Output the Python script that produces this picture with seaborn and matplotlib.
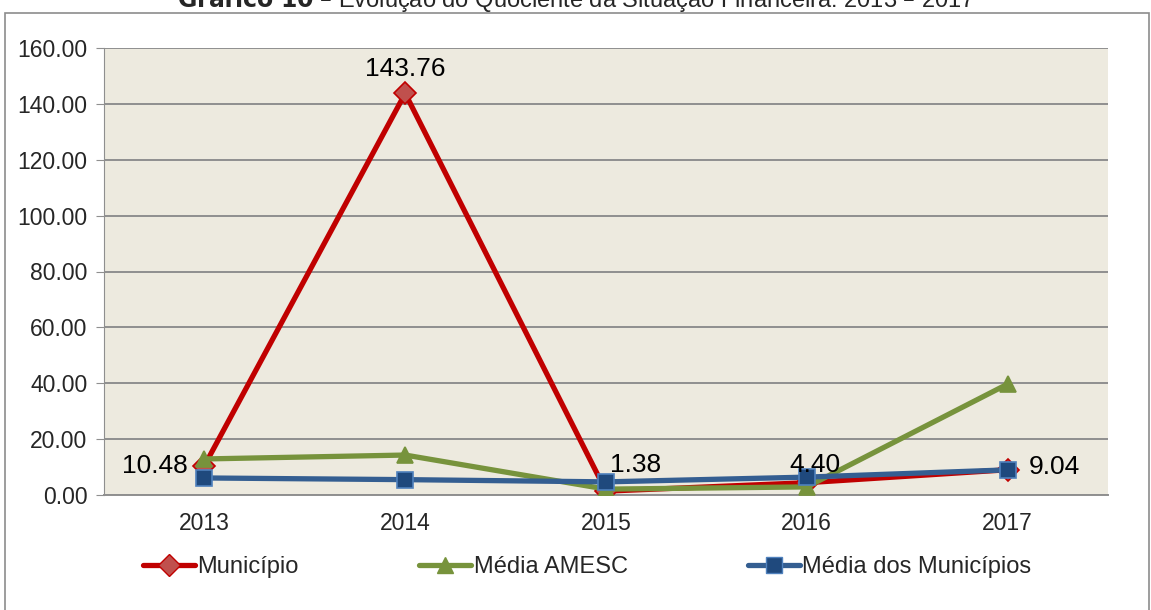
import matplotlib
matplotlib.use("Agg")
import matplotlib.pyplot as plt
import seaborn as sns
import pandas as pd
from matplotlib.patches import Rectangle
from matplotlib.lines import Line2D

# dados
anos = ["2013", "2014", "2015", "2016", "2017"]
municipio = [10.48, 143.76, 1.38, 4.40, 9.04]
media_amesc = [12.9, 14.3, 2.1, 2.9, 39.7]
media_municipios = [6.1, 5.5, 4.7, 6.4, 9.0]
y_ticks = [0, 20, 40, 60, 80, 100, 120, 140, 160]

sns.set_style("white")
plt.rcParams['font.family'] = ['Liberation Sans', 'DejaVu Sans']

fig = plt.figure(figsize=(11.51, 6.10), dpi=100)
ax = fig.add_axes([104 / 1151, 1 - 495 / 610, (1108 - 104) / 1151, (495 - 48) / 610])
ax.set_facecolor("#EDEADF")

# moldura externa
fig.patches.append(Rectangle((5 / 1151, -0.1), 1144 / 1151, 1.1 - 13 / 610,
                             transform=fig.transFigure, fill=False,
                             edgecolor="#8C8C8C", linewidth=1.2, zorder=0))

series = [
    ("Município", municipio, "#C00000", "D", "#C0504D", "#C00000", 11),
    ("Média AMESC", media_amesc, "#77933C", "^", "#77933C", "#77933C", 12),
    ("Média dos Municípios", media_municipios, "#345E91", "s", "#1F497D", "#4F81BD", 11),
]

handles = []
for nome, vals, cor, mk, face, edge, ms in series:
    df = pd.DataFrame({"ano": list(range(len(anos))), "valor": vals})
    sns.lineplot(data=df, x="ano", y="valor", ax=ax, color=cor, linewidth=3.8,
                 marker=mk, markersize=ms, markerfacecolor=face,
                 markeredgecolor=edge, markeredgewidth=1.2, zorder=3)
    handles.append(Line2D([], [], color=cor, linewidth=3.8, marker=mk,
                          markersize=ms, markerfacecolor=face,
                          markeredgecolor=edge, label=nome))

ax.set_xlim(-0.5, len(anos) - 0.5)
ax.set_ylim(0, 160)
ax.set_yticks(y_ticks)
ax.set_yticklabels([f"{v:.2f}" for v in y_ticks])
ax.set_xticks(range(len(anos)))
ax.set_xticklabels(anos)
ax.set_xlabel("")
ax.set_ylabel("")
ax.grid(axis="y", color="#8F8F8F", linewidth=1.4)
ax.set_axisbelow(True)
for s in ["top", "right"]:
    ax.spines[s].set_visible(False)
ax.spines["left"].set_color("#8F8F8F")
ax.spines["bottom"].set_color("#8F8F8F")
ax.spines["bottom"].set_linewidth(1.4)
ax.tick_params(axis="y", labelsize=16.5, length=6, color="#8F8F8F", left=True, pad=6)
ax.tick_params(axis="x", labelsize=16.5, length=0, pad=12)

# rótulos de valores (Município)
offsets = [((-12, 0), "right", "center"), ((0, 9), "center", "bottom"),
           ((3, 19), "left", "center"), ((6, 13), "center", "center"),
           ((15, 2), "left", "center")]
for i, v in enumerate(municipio):
    (dx, dy), ha, va = offsets[i]
    ax.annotate(f"{v:.2f}", (i, v), xytext=(dx, dy), textcoords="offset points",
                ha=ha, va=va, fontsize=19, color="black", zorder=5)

fig.legend(handles=handles, loc="center left", bbox_to_anchor=(122 / 1151, 1 - 567 / 610),
           ncol=3, frameon=False, fontsize=17, handlelength=2.2, handletextpad=0.1,
           columnspacing=5.1)

fig.text(0.5, 1 - 7 / 610, r"$\bf{Gráfico\ 10}$ – Evolução do Quociente da Situação Financeira: 2013 – 2017",
         ha="center", va="baseline", fontsize=17)

fig.savefig("out.png", dpi=100)
